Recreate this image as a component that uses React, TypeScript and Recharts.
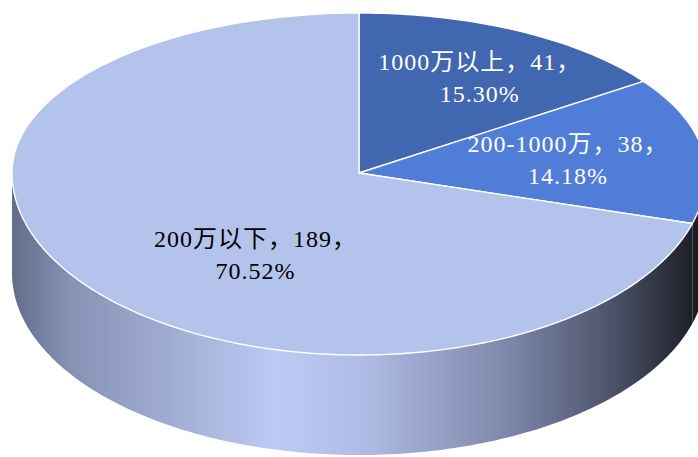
import { PieChart, Pie, Cell } from 'recharts';

const CATEGORIES = ['1000万以上', '200-1000万', '200万以下'];
const COUNTS = [41, 38, 189];

const COLORS = ['#4167b1', '#4f7dd7', '#b4c3ec'];
const LABEL_COLORS = ['#ffffff', '#ffffff', '#000000'];
const LABEL_NUDGE = [[18, -4], [-10, 4], [74, 12]];

// fake 3d: the circle Recharts gives us is squashed into an ellipse
const K_TOP = 160 / 347;
const K_BOT = 182 / 347;
const DEPTH = 100;
const FONT = "'Liberation Serif', 'Noto Sans CJK SC', serif";

const rad = Math.PI / 180;

const pt = (cx: number, cy: number, r: number, deg: number, dy = 0) => {
  const s = Math.sin(deg * rad);
  const k = s > 0 ? K_TOP : K_BOT;
  return [cx + r * Math.cos(deg * rad), cy - r * k * s + dy];
};

const arcPts = (cx: number, cy: number, r: number, from: number, to: number, dy = 0) => {
  const n = Math.max(2, Math.ceil(Math.abs(to - from)) + 1);
  const out: number[][] = [];
  for (let i = 0; i < n; i++) {
    out.push(pt(cx, cy, r, from + ((to - from) * i) / (n - 1), dy));
  }
  return out;
};

const toPath = (pts: number[][]) =>
  'M' + pts.map(p => `${p[0].toFixed(2)},${p[1].toFixed(2)}`).join('L') + 'Z';

const Slice3D = (props: any) => {
  const { cx, cy, outerRadius, startAngle, endAngle, fill } = props;
  const hi = Math.max(startAngle, endAngle);
  const lo = Math.min(startAngle, endAngle);

  const sides: string[] = [];
  for (const k of [-1, 0, 1]) {
    const a = Math.max(lo, -180 + 360 * k);
    const b = Math.min(hi, 360 * k);
    if (b > a) {
      const top = arcPts(cx, cy, outerRadius, a, b);
      const bottom = arcPts(cx, cy, outerRadius, b, a, DEPTH);
      sides.push(toPath([...top, ...bottom]));
    }
  }

  const face = toPath([[cx, cy], ...arcPts(cx, cy, outerRadius, startAngle, endAngle)]);

  return (
    <g>
      {sides.map((d, i) => (
        <path key={i} d={d} fill="url(#sideGrad)" stroke="none" />
      ))}
      <path d={face} fill={fill} stroke="#ffffff" strokeWidth={1.4} strokeLinejoin="round" />
    </g>
  );
};

const renderLabel = (p: any) => {
  const { cx, cy, midAngle, outerRadius, index, percent } = p;
  const [x0, y0] = pt(cx, cy, outerRadius * 0.64, midAngle);
  const x = x0 + LABEL_NUDGE[index][0];
  const y = y0 + LABEL_NUDGE[index][1];
  return (
    <text textAnchor="middle" fill={LABEL_COLORS[index]} fontSize={24} letterSpacing={1} fontFamily={FONT}>
      <tspan x={x} y={y - 8}>{`${CATEGORIES[index]}，${COUNTS[index]}，`}</tspan>
      <tspan x={x} y={y + 24}>{`${(percent * 100).toFixed(2)}%`}</tspan>
    </text>
  );
};

export default function App() {
  const data = CATEGORIES.map((name, i) => ({ name, value: COUNTS[i] }));

  return (
    <div style={{ position: 'absolute', left: 0, top: 0, width: 698, height: 457, background: '#fff' }}>
      <PieChart width={698} height={457} margin={{ top: 0, right: 0, bottom: 0, left: 0 }}>
        <defs>
          <linearGradient id="sideGrad" gradientUnits="userSpaceOnUse" x1={12} y1={0} x2={706} y2={0}>
            <stop offset="0" stopColor="#646c8a" />
            <stop offset="0.08" stopColor="#8590b3" />
            <stop offset="0.38" stopColor="#bccaf4" />
            <stop offset="0.5" stopColor="#b0bde6" />
            <stop offset="0.72" stopColor="#7c86a8" />
            <stop offset="0.88" stopColor="#474d62" />
            <stop offset="1" stopColor="#15171d" />
          </linearGradient>
        </defs>
        <Pie
          data={data}
          dataKey="value"
          nameKey="name"
          cx={359}
          cy={173}
          outerRadius={347}
          startAngle={90}
          endAngle={-270}
          stroke="none"
          shape={Slice3D}
          activeShape={Slice3D}
          inactiveShape={Slice3D}
          label={renderLabel}
          labelLine={false}
          isAnimationActive={false}
        >
          {data.map((entry, index) => (
            <Cell key={`cell-${index}`} fill={COLORS[index]} />
          ))}
        </Pie>
      </PieChart>
    </div>
  );
}
